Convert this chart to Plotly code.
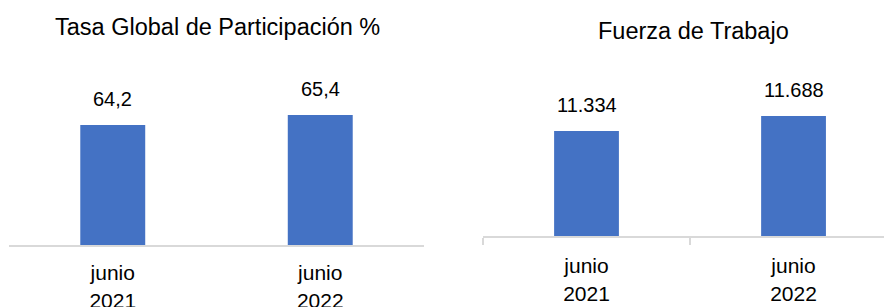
import plotly.graph_objects as go

categories = ["junio<br>2021", "junio<br>2022"]
tasa_values = [64.2, 65.4]
tasa_labels = ["64,2", "65,4"]
fuerza_values = [11334, 11688]
fuerza_labels = ["11.334", "11.688"]
titles = ["Tasa Global de Participación %", "Fuerza de Trabajo"]

FONT = "Liberation Sans, Arial, sans-serif"
BAR = "#4472C4"
AX = "#d9d9d9"

fig = go.Figure()
fig.add_trace(go.Bar(x=categories, y=tasa_values, marker=dict(color=BAR, line=dict(width=0)),
                     xaxis="x", yaxis="y", hoverinfo="skip"))
fig.add_trace(go.Bar(x=categories, y=fuerza_values, marker=dict(color=BAR, line=dict(width=0)),
                     xaxis="x2", yaxis="y2", hoverinfo="skip"))

annotations = []
for c, v, t in zip(categories, tasa_values, tasa_labels):
    annotations.append(dict(x=c, y=v, xref="x", yref="y", text=t, showarrow=False,
                            yanchor="bottom", yshift=13, font=dict(size=20, color="#000", family=FONT)))
for c, v, t in zip(categories, fuerza_values, fuerza_labels):
    annotations.append(dict(x=c, y=v, xref="x2", yref="y2", text=t, showarrow=False,
                            yanchor="bottom", yshift=13, font=dict(size=20, color="#000", family=FONT)))
annotations.append(dict(x=217/884, y=1-27/307, xref="paper", yref="paper", text=titles[0], showarrow=False,
                        xanchor="center", yanchor="middle", font=dict(size=23.5, color="#000", family=FONT)))
annotations.append(dict(x=693/884, y=1-31/307, xref="paper", yref="paper", text=titles[1], showarrow=False,
                        xanchor="center", yanchor="middle", font=dict(size=23.5, color="#000", family=FONT)))

fig.update_layout(
    width=884, height=307,
    margin=dict(l=0, r=0, t=0, b=0, autoexpand=False),
    paper_bgcolor="white", plot_bgcolor="white",
    showlegend=False,
    bargap=0.687,
    font=dict(family=FONT, color="#000"),
    annotations=annotations,
    xaxis=dict(domain=[9/884, 424/884], anchor="y", showline=True, linecolor=AX, linewidth=2,
               ticks="", showgrid=False, tickfont=dict(size=21, family=FONT, color="#000"),
               ticklabelstandoff=8, automargin=False, range=[-0.5, 1.5]),
    yaxis=dict(domain=[(307-245)/307, (307-70)/307], anchor="x", range=[49.8, 70.8],
               visible=False, showgrid=False, zeroline=False),
    xaxis2=dict(domain=[483/884, 1.0], anchor="y2", showline=True, linecolor=AX, linewidth=2,
                ticks="outside", tickson="boundaries", ticklen=7, tickcolor=AX, tickwidth=2,
                showgrid=False, tickfont=dict(size=21, family=FONT, color="#000"),
                ticklabelstandoff=10, automargin=False, range=[-0.5, 1.437]),
    yaxis2=dict(domain=[(307-236)/307, (307-70)/307], anchor="x2", range=[8856, 12774],
                visible=False, showgrid=False, zeroline=False),
)

fig.write_html("out.html", config={"displayModeBar": False},
               post_script="document.body.style.margin='0';")
